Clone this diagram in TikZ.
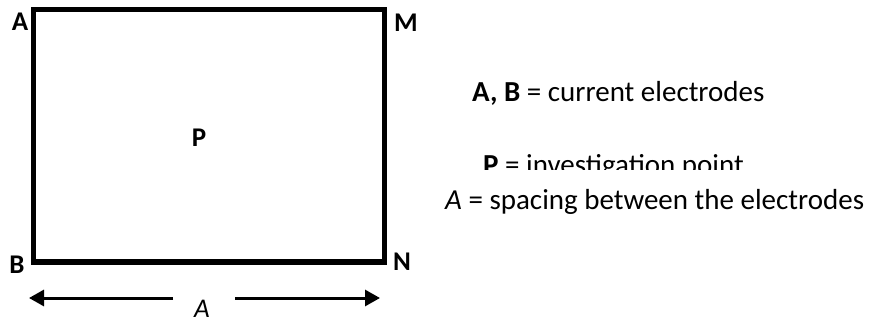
\documentclass[tikz,border=0pt]{standalone}
\usepackage{fontspec}
\setmainfont{Carlito}
\usetikzlibrary{arrows.meta}

\tikzset{
  corner/.style={font=\fontsize{27}{31}\selectfont\bfseries, inner sep=0pt},
  keytext/.style={font=\fontsize{29}{33}\selectfont, anchor=base west, inner sep=0pt},
  spanarrow/.style={line width=3pt, -{Triangle[length=15pt,width=16pt]}}
}

\begin{document}
\begin{tikzpicture}[x=1pt,y=-1pt]
\useasboundingbox (0,0) rectangle (872,320);
% electrode layout
\coordinate (cA) at (33,10);
\coordinate (cM) at (384,10);
\coordinate (cN) at (384,262);
\coordinate (cB) at (33,262);
\draw[line width=5pt] (cA) -- (cM) -- (cN) -- (cB) -- cycle;
\node[corner] (lA) at (20,22) {A};
\node[corner] (lM) at (406,23) {M};
\node[corner] (lB) at (17,265) {B};
\node[corner] (lN) at (402,262) {N};
\node[corner] (lP) at (199,138) {P};
% spacing arrow
\node[font=\fontsize{27}{31}\selectfont\itshape, inner sep=0pt, anchor=base] (lSp) at (202,317) {A};
\coordinate (sL) at (173,298);
\coordinate (sLt) at (29,298);
\coordinate (sR) at (235,298);
\coordinate (sRt) at (380,298);
\draw[spanarrow] (sL) -- (sLt);
\draw[spanarrow] (sR) -- (sRt);
% legend
\node[keytext] (keyAB) at (472,102) {\textbf{A, B} = current electrodes};
\begin{scope}
\clip (430,140) rectangle (872,170);
\node[keytext] (keyP) at (483,175) {\textbf{P} = investigation point};
\end{scope}
\node[keytext] (keySp) at (445,210) {\textit{A} = spacing between the electrodes};
\end{tikzpicture}
\end{document}
